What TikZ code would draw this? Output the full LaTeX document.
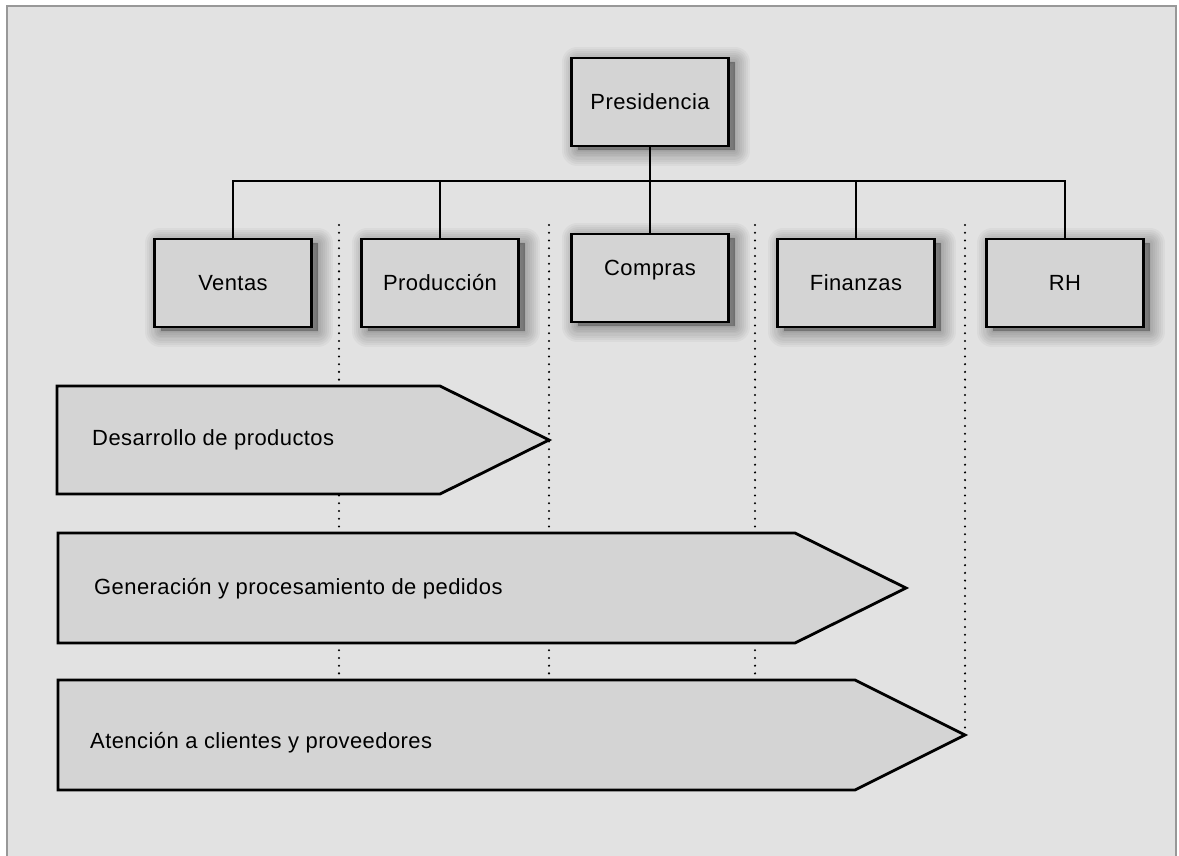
\documentclass[tikz,border=0pt]{standalone}
\usepackage{fontspec}
\setmainfont{Liberation Sans}[LetterSpace=2]
\usepackage{tikz}
\usetikzlibrary{positioning,calc,shadows}
\definecolor{panelgray}{RGB}{226,226,226}
\definecolor{boxgray}{RGB}{212,212,212}
\definecolor{framegray}{RGB}{152,152,152}

\begin{document}
\begin{tikzpicture}[x=0.02cm, y=-0.02cm,
  every node/.style={font=\fontsize{12.5}{15}\selectfont},
  softshade/.style={general shadow={fill=black, draw=black, line width=#1,
      opacity=0.035, line join=round, shadow xshift=3.5pt, shadow yshift=-2.5pt}},
  unitbox/.style={draw, line width=1.6pt, fill=boxgray,
    minimum width=3.14cm, minimum height=1.76cm,
    softshade=18pt, softshade=15.5pt, softshade=13pt, softshade=10.5pt,
    softshade=8pt, softshade=6pt, softshade=4pt, softshade=2pt, softshade=0.5pt},
  link/.style={line width=1.1pt},
  guide/.style={line width=1.3pt, dash pattern=on 0pt off 4.4pt, line cap=round},
  procbox/.style={draw, line width=1.6pt, fill=boxgray, line join=miter}]
  \useasboundingbox (0,0) rectangle (1179,855);
  \fill[white] (0,0) rectangle (1179,855);
  % Panel with open bottom
  \fill[panelgray] (7,6) rectangle (1176,870);
  \draw[framegray, line width=1.6pt] (7,870) -- (7,6) -- (1176,6) -- (1176,870);
  % Dotted column guides
  \foreach \gx/\gend in {339/680, 549/680, 755/680, 965/735}
    \draw[guide] (\gx,225) -- (\gx,\gend);
  % Org chart units
  \node[unitbox] (pres) at (650,102) {Presidencia};
  \node[unitbox] (ventas) at (233,283) {Ventas};
  \node[unitbox] (prod) at (440,283) {Producción};
  \node[unitbox, text depth=12pt] (compras) at (650,278) {Compras};
  \node[unitbox] (fin) at (856,283) {Finanzas};
  \node[unitbox] (rh) at (1065,283) {RH};
  \coordinate (bus) at (650,181);
  % Reporting lines
  \draw[link] (pres.south) -- (compras.north);
  \draw[link] (ventas.north) |- (bus) -| (rh.north);
  \draw[link] (prod.north) -- (prod.north |- bus);
  \draw[link] (fin.north) -- (fin.north |- bus);
  % Cross-functional processes
  \draw[procbox] (57,386) -- (440,386) -- (549,440) -- (440,494) -- (57,494) -- cycle;
  \node[anchor=west] (desarrollo) at (86,440) {Desarrollo de productos};
  \draw[procbox] (58,533) -- (795,533) -- (906,588) -- (795,643) -- (58,643) -- cycle;
  \node[anchor=west] (pedidos) at (88,589) {Generación y procesamiento de pedidos};
  \draw[procbox] (58,680) -- (855,680) -- (965,735) -- (855,790) -- (58,790) -- cycle;
  \node[anchor=west] (atencion) at (84,743) {Atención a clientes y proveedores};
\end{tikzpicture}
\end{document}
